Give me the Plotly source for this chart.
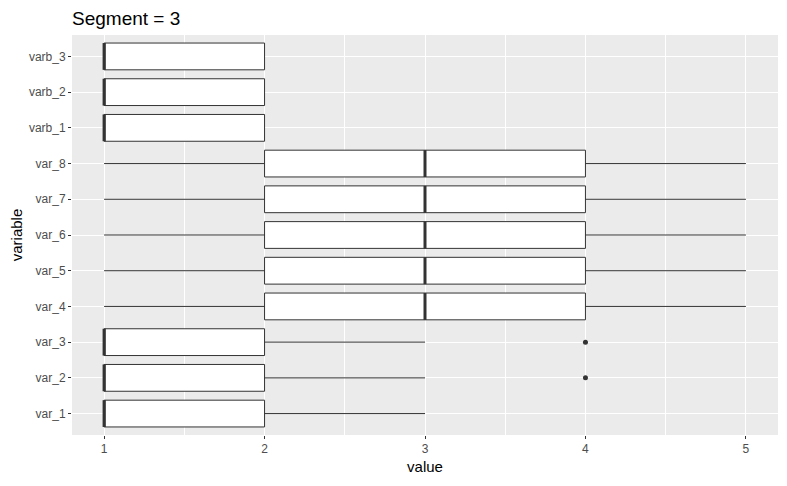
import plotly.graph_objects as go

categories = ["var_1", "var_2", "var_3", "var_4", "var_5", "var_6", "var_7", "var_8",
              "varb_1", "varb_2", "varb_3"]
lower = [1, 1, 1, 1, 1, 1, 1, 1, 1, 1, 1]
q1 = [1, 1, 1, 2, 2, 2, 2, 2, 1, 1, 1]
median = [1, 1, 1, 3, 3, 3, 3, 3, 1, 1, 1]
q3 = [2, 2, 2, 4, 4, 4, 4, 4, 2, 2, 2]
upper = [3, 3, 3, 5, 5, 5, 5, 5, 2, 2, 2]
outlier_cat = ["var_2", "var_3"]
outlier_val = [4, 4]
x_ticks = [1, 2, 3, 4, 5]

pos = list(range(len(categories)))
idx = {c: i for i, c in enumerate(categories)}
half = 0.375
dark = "#333333"

# page body has an 8px default margin; compensate
W, H = 779, 478

fig = go.Figure()
fig.add_trace(go.Box(
    y=pos, q1=q1, median=median, q3=q3, lowerfence=lower, upperfence=upper,
    orientation="h", fillcolor="white", line=dict(color=dark, width=1),
    whiskerwidth=0, width=0.75, boxpoints=False, showlegend=False, hoverinfo="skip",
))
# thicker median lines
mx, my = [], []
for i, m in enumerate(median):
    mx += [m, m, None]
    my += [i - half, i + half, None]
fig.add_trace(go.Scatter(x=mx, y=my, mode="lines", line=dict(color=dark, width=3),
                         showlegend=False, hoverinfo="skip"))
fig.add_trace(go.Scatter(x=outlier_val, y=[idx[c] for c in outlier_cat], mode="markers",
                         marker=dict(color=dark, size=5), showlegend=False))

fig.update_layout(
    width=W, height=H,
    margin=dict(l=64, r=9, t=27, b=51, autoexpand=False),
    paper_bgcolor="white", plot_bgcolor="#EBEBEB",
    font=dict(family="Liberation Sans, Arial, sans-serif"),
    title=dict(text="Segment = 3", x=64/W, xanchor="left", y=1 - 10/H, yanchor="middle",
               font=dict(size=19, color="black"), automargin=False),
)
fig.update_xaxes(
    range=[0.8, 5.2], tickvals=x_ticks, ticktext=[str(t) for t in x_ticks],
    showgrid=True, gridcolor="white", gridwidth=1.2, zeroline=False, automargin=False,
    ticks="outside", ticklen=3, tickcolor=dark, tickwidth=1,
    tickfont=dict(size=12, color="#4D4D4D"),
    title=dict(text="value", font=dict(size=15, color="black"), standoff=6),
    minor=dict(tickvals=[1.5, 2.5, 3.5, 4.5], showgrid=True, gridcolor="white", gridwidth=0.6, ticks=""),
)
fig.update_yaxes(
    range=[-0.6, 10.6], tickvals=pos, ticktext=categories,
    showgrid=True, gridcolor="white", gridwidth=1.2, zeroline=False, automargin=False,
    ticks="outside", ticklen=3, tickcolor=dark, tickwidth=1,
    tickfont=dict(size=12, color="#4D4D4D"),
    title=dict(text="variable", font=dict(size=15, color="black"), standoff=6),
)
fig.write_html("out.html")
